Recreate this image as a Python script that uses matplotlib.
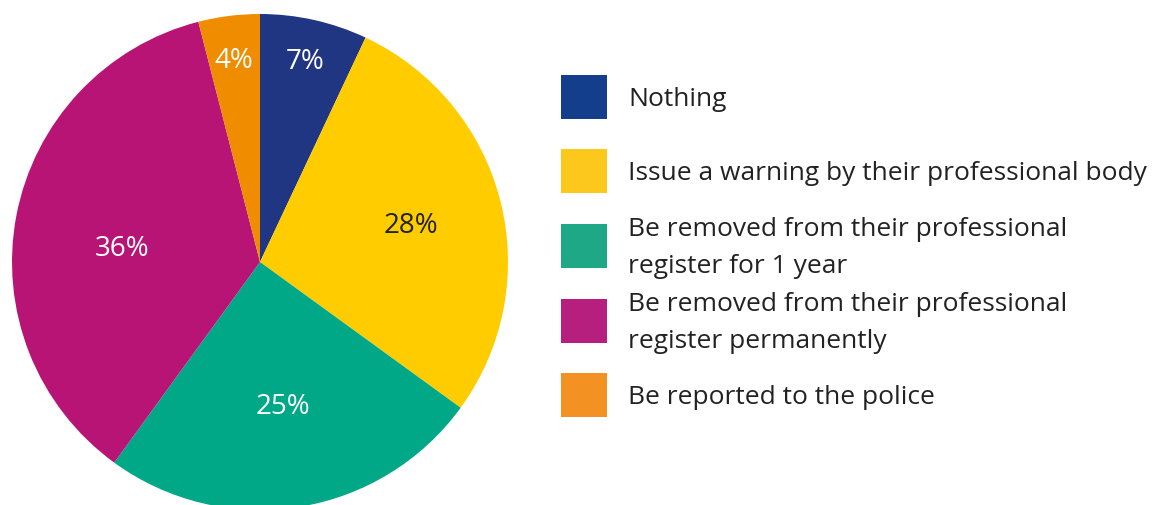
import matplotlib
matplotlib.use("Agg")
import matplotlib.pyplot as plt
from matplotlib.patches import Rectangle
import numpy as np

categories = ["Nothing",
              "Issue a warning by their professional body",
              "Be removed from their professional\nregister for 1 year",
              "Be removed from their professional\nregister permanently",
              "Be reported to the police"]
values = [7, 28, 25, 36, 4]
pie_colors = ["#213682", "#FFCC00", "#00A887", "#B81476", "#F08C00"]
legend_colors = ["#123E8C", "#FDC81C", "#1EA886", "#B61F7E", "#F39223"]
label_colors = ["white", "#222222", "white", "white", "white"]
label_dist = [0.84, 0.63, 0.58, 0.56, 0.83]
label_shift = [0.0, 0.0, 0.0, 4.0, 0.0]  # small angular nudges (deg)

plt.rcParams['font.family'] = ['Open Sans', 'DejaVu Sans']

W, H = 1162, 505
fig = plt.figure(figsize=(W/100, H/100), dpi=100)
cx, cy, R = 260, 262, 248
ax = fig.add_axes([(cx-R)/W, (H-cy-R)/H, 2*R/W, 2*R/H])
wedges, _ = ax.pie(values, colors=pie_colors, startangle=90, counterclock=False,
                   radius=1.0, wedgeprops=dict(linewidth=0))
ax.set_xlim(-1, 1); ax.set_ylim(-1, 1)
ax.set_aspect('equal')
ax.axis('off')
for w, v, c, d, s in zip(wedges, values, label_colors, label_dist, label_shift):
    ang = np.deg2rad((w.theta1 + w.theta2) / 2 + s)
    ax.text(d*np.cos(ang), d*np.sin(ang) - 0.012, f"{v}%", color=c, fontsize=20,
            ha='center', va='center')

sq_x, sq_w, sq_h = 561, 46, 44
sq_tops = [75, 149, 224, 299, 373]
for top, col, lab in zip(sq_tops, legend_colors, categories):
    fig.add_artist(Rectangle((sq_x/W, (H-top-sq_h)/H), sq_w/W, sq_h/H,
                             transform=fig.transFigure, color=col, lw=0))
    fig.text(628/W, (H-top-sq_h/2-2)/H, lab, fontsize=19, color="#222222",
             ha='left', va='center', linespacing=1.6)

fig.savefig("out.png", dpi=100)
